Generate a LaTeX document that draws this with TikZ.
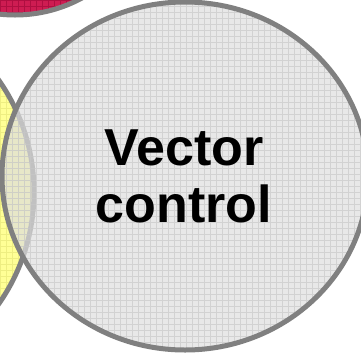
\documentclass[tikz,border=0pt]{standalone}
\usepackage{fontspec}
\setmainfont{Liberation Sans}
\definecolor{pinkfill}{RGB}{206,28,82}
\definecolor{pinkline}{RGB}{175,15,65}
\definecolor{yellowfill}{RGB}{255,255,150}
\definecolor{yellowline}{RGB}{238,238,130}
\definecolor{grayfill}{RGB}{222,222,222}
\definecolor{grayline}{RGB}{200,200,200}
\definecolor{rimgray}{RGB}{128,128,128}
\tikzset{
  rim/.style={draw=rimgray, line width=5pt},
  gridlines/.style={line width=0.8pt, xstep=6pt, ystep=6pt},
  label/.style={font=\fontsize{52}{57}\selectfont\bfseries, align=center, text=black, inner sep=0pt},
}
\begin{document}
\begin{tikzpicture}[x=1pt,y=-1pt]
\useasboundingbox (0,0) rectangle (361,354);
\begin{scope}
\clip (0,0) rectangle (361,354);
% pink circle (top left)
\begin{scope}
  \clip (15,-125) circle (140);
  \fill[pinkfill] (0,0) rectangle (361,354);
  \draw[pinkline, gridlines] (0,0) grid (361,354);
\end{scope}
\draw[rim] (15,-125) circle (140);
% yellow circle (left)
\begin{scope}
  \clip (-161,192) circle (195);
  \fill[yellowfill] (0,0) rectangle (361,354);
  \draw[yellowline, gridlines] (0,0) grid (361,354);
\end{scope}
\draw[rim] (-161,192) circle (195);
% gray ellipse (front)
\begin{scope}
  \clip (185,176) ellipse [x radius=183, y radius=174];
  \fill[grayfill, fill opacity=0.7] (0,0) rectangle (361,354);
  \draw[grayline, gridlines, draw opacity=0.7] (0,0) grid (361,354);
\end{scope}
\draw[rim] (185,176) ellipse [x radius=183, y radius=174];
\end{scope}
\node[label] (vc) at (184,176) {Vector\\control};
\end{tikzpicture}
\end{document}
